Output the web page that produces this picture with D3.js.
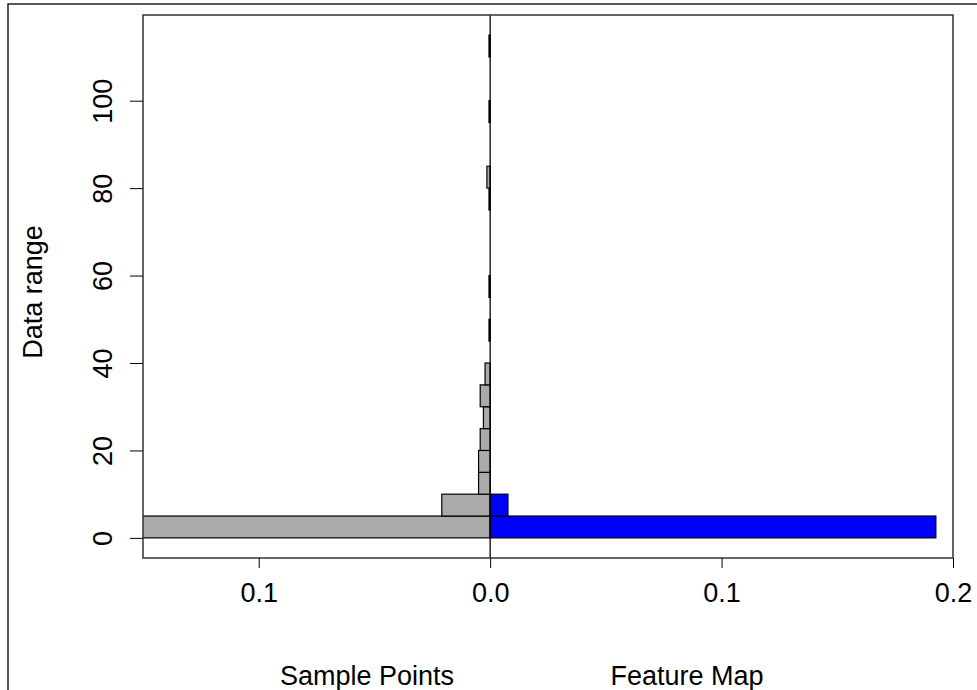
<!DOCTYPE html>
<head>
    <meta charset="utf-8">
    <title>Back to back histogram</title>
    <script src="https://d3js.org/d3.v7.min.js"></script>
    <style>
        body{ margin: 0; background: #ffffff; }
        text{
            font-family: "Liberation Sans", Arial, sans-serif;
            font-size: 27px;
            fill: #000000;
        }
        .tick line{ stroke: #000000; }
        path.domain{ display: none; }
    </style>
</head>
<body>
<script>
    // bins of width 5 on the data range, lower edges
    const binStart = [0, 5, 10, 15, 20, 25, 30, 35, 40, 45, 50, 55, 60, 65, 70, 75, 80, 85, 90, 95, 100, 105, 110];
    const binWidth = 5;

    // density per bin (left side, drawn to the left of zero)
    const samplePoints = [0.1505, 0.0209, 0.005, 0.005, 0.0043, 0.0029, 0.0043, 0.0022, 0, 0.0005, 0, 0.0005, 0, 0, 0, 0.0005, 0.0014, 0, 0, 0.0005, 0, 0, 0.0005];
    // density per bin (right side)
    const featureMap = [0.1926, 0.0077, 0, 0, 0, 0, 0, 0, 0, 0, 0, 0, 0, 0, 0, 0, 0, 0, 0, 0, 0, 0, 0];

    const xTicks = [-0.1, 0, 0.1, 0.2];
    const yTicks = [0, 20, 40, 60, 80, 100];

    const width = 977, height = 690;
    const margin = {top: 15, right: 24, bottom: 132, left: 143};

    var svg = d3.select("body").append("svg")
        .attr("width", width)
        .attr("height", height);

    // figure frame (only top and left edges show)
    svg.append("rect")
        .attr("x", 8).attr("y", 4)
        .attr("width", 1200).attr("height", 1200)
        .style("fill", "none")
        .style("stroke", "#222")
        .style("stroke-width", 1.5);

    let x = d3.scaleLinear()
        .domain([-0.15, 0.2])
        .range([margin.left, width - margin.right]);

    let y = d3.scaleLinear()
        .domain([-4.6, 119.6])
        .range([height - margin.bottom, margin.top]);

    svg.append("clipPath").attr("id", "plotClip")
        .append("rect")
        .attr("x", margin.left).attr("y", margin.top)
        .attr("width", x.range()[1] - margin.left)
        .attr("height", y.range()[0] - margin.top);

    let plot = svg.append("g").attr("clip-path", "url(#plotClip)");

    let rows = binStart.map((b, i) => ({lo: b, left: samplePoints[i], right: featureMap[i]}));

    //Sample Points, to the left
    plot.selectAll("rect.left")
        .data(rows.filter(d => d.left > 0))
        .enter()
        .append("rect")
        .attr("class", "left")
        .attr("x", d => x(-d.left))
        .attr("width", d => x(0) - x(-d.left))
        .attr("y", d => y(d.lo + binWidth))
        .attr("height", d => y(d.lo) - y(d.lo + binWidth))
        .style("fill", "#aaaaaa")
        .style("stroke", "#000")
        .style("stroke-width", 1.2);

    //Feature Map, to the right
    plot.selectAll("rect.right")
        .data(rows.filter(d => d.right > 0))
        .enter()
        .append("rect")
        .attr("class", "right")
        .attr("x", x(0))
        .attr("width", d => x(d.right) - x(0))
        .attr("y", d => y(d.lo + binWidth))
        .attr("height", d => y(d.lo) - y(d.lo + binWidth))
        .style("fill", "#0000ff")
        .style("stroke", "#000")
        .style("stroke-width", 1.2);

    // zero line
    svg.append("line")
        .attr("x1", x(0)).attr("x2", x(0))
        .attr("y1", margin.top).attr("y2", y.range()[0])
        .style("stroke", "#000")
        .style("stroke-width", 1.3);

    // plot box
    svg.append("rect")
        .attr("x", margin.left).attr("y", margin.top)
        .attr("width", x.range()[1] - margin.left)
        .attr("height", y.range()[0] - margin.top)
        .style("fill", "none")
        .style("stroke", "#333")
        .style("stroke-width", 1.5);

    let xAxis = d3.axisBottom(x)
        .tickValues(xTicks)
        .tickSize(10)
        .tickPadding(15)
        .tickFormat(d => d3.format(".1f")(Math.abs(d)));

    svg.append("g")
        .attr("transform", `translate(0, ${y.range()[0]})`)
        .call(xAxis)
        .call(g => g.selectAll("text").style("font-size", "27px").style("font-family", "Liberation Sans, Arial, sans-serif"));

    let yAxis = d3.axisLeft(y)
        .tickValues(yTicks)
        .tickSize(13);

    svg.append("g")
        .attr("transform", `translate(${margin.left}, 0)`)
        .call(yAxis)
        .call(g => g.selectAll("text")
            .attr("transform", "rotate(-90)")
            .attr("x", 0)
            .attr("y", -31)
            .attr("dy", 0)
            .style("text-anchor", "middle")
            .style("font-size", "27px")
            .style("font-family", "Liberation Sans, Arial, sans-serif"));

    // axis titles
    svg.append("text")
        .attr("transform", "translate(42, 292) rotate(-90)")
        .style("text-anchor", "middle")
        .text("Data range");

    svg.append("text")
        .attr("x", 367).attr("y", 685)
        .style("text-anchor", "middle")
        .text("Sample Points");

    svg.append("text")
        .attr("x", 687).attr("y", 685)
        .style("text-anchor", "middle")
        .text("Feature Map");
</script>
</body>
